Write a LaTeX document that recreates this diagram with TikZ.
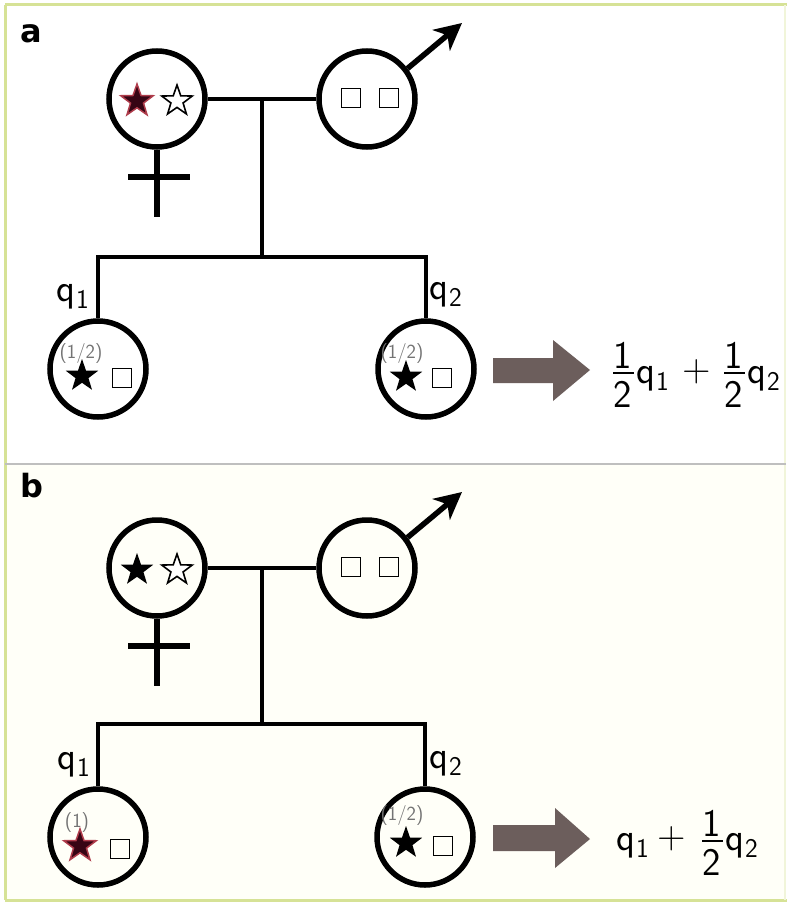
\documentclass[tikz,border=0pt]{standalone}
\usepackage{fontspec}
\usetikzlibrary{shapes.geometric,arrows.meta}
\newfontfamily\labfont{DejaVu Sans}
\newcommand\qsub[1]{q\kern1pt\raisebox{-0.2em}{\fontsize{27}{29}\selectfont #1}}
\definecolor{framecol}{RGB}{214,226,150}
\definecolor{arrowcol}{RGB}{108,94,92}
\definecolor{hotfill}{RGB}{55,5,20}
\definecolor{hotedge}{RGB}{175,60,75}
\definecolor{creamcol}{RGB}{255,255,248}
\begin{document}
\begin{tikzpicture}[x=1pt,y=-1pt,
  person/.style={circle,draw,line width=5.5pt,minimum size=96pt,inner sep=0pt},
  tie/.style={line width=3.2pt},
  sym/.style={line width=5.5pt},
  gene/.style={rectangle,draw,line width=1.7pt,minimum size=19pt,inner sep=0pt},
  starbase/.style={star,star points=5,star point ratio=2.5,minimum size=34pt,inner sep=0pt},
  fullstar/.style={starbase,fill=black},
  openstar/.style={starbase,draw,line width=1.6pt,fill=white,minimum size=32pt},
  hotstar/.style={starbase,fill=hotfill,draw=hotedge,line width=1.5pt},
  share/.style={font=\sffamily\fontsize{20}{22}\selectfont,text=black!55,inner sep=0pt},
  mtxt/.style={font=\sffamily\fontsize{39}{42}\selectfont,inner sep=0pt,anchor=base},
  qlab/.style={mtxt,anchor=base west},
  panlab/.style={font=\labfont\bfseries\fontsize{32}{34}\selectfont,inner sep=0pt},
  fbar/.style={line width=1.6pt},
  bigarrow/.style={fill=arrowcol},
  maletip/.style={-{Stealth[length=27pt,width=27pt,inset=8pt]}}
]
% canvas and frame
\useasboundingbox (0,0) rectangle (788,904);
\fill[white] (0,0) rectangle (788,904);
\fill[creamcol] (5,465) rectangle (786,900);
\draw[framecol,line width=3pt] (5,5) -- (787,5);
\draw[framecol,line width=3pt] (5,5) -- (5,900);
\draw[framecol,line width=3pt] (5,900) -- (787,900);
\draw[framecol!35,line width=1.2pt] (785,5) -- (785,900);
\draw[black!25,line width=1.5pt] (5,464) -- (786,464);

% ================= panel a =================
\node[panlab] (la) at (31,34) {a};
\node[person] (fa) at (157,99) {};
\node[person] (ma) at (367,99) {};
\draw[tie] (fa.east) -- (ma.west);
\coordinate (ja) at (262,99);
\coordinate (ka) at (262,257);
\draw[tie] (ja) -- (ka);
\node[person] (c1a) at (98,369) {};
\node[person] (c2a) at (426,369) {};
\draw[tie] (c1a.north) |- (ka) -| (c2a.north);
% female symbol
\coordinate (fxa) at (157,217);
\coordinate (hla) at (128,177);
\coordinate (hra) at (190,177);
\draw[sym] (fa.south) -- (fxa);
\draw[sym] (hla) -- (hra);
% male symbol
\coordinate (mta) at (462,23);
\draw[sym,maletip] (ma.37) -- (mta);
% parents' genes
\node[hotstar] (s1a) at (137,101) {};
\node[openstar] (s2a) at (177,101) {};
\node[gene] (g1a) at (351,98) {};
\node[gene] (g2a) at (389,98) {};
% children
\node[qlab] (q1a) at (56,301) {\qsub{1}};
\node[qlab] (q2a) at (429,299) {\qsub{2}};
\node[share] (p1a) at (81,354) {(1/2)};
\node[fullstar] (k1a) at (82,376) {};
\node[gene] (h1a) at (122,378) {};
\node[share] (p2a) at (402,354) {(1/2)};
\node[fullstar] (k2a) at (406,377) {};
\node[gene] (h2a) at (442,378) {};
% result
\fill[bigarrow] (493,358) -- (553,358) -- (553,340) -- (590,370) -- (553,401) -- (553,383) -- (493,383) -- cycle;
\node[mtxt] (na1) at (623,368) {1};
\node[mtxt] (da1) at (623,407) {2};
\coordinate (bla1) at (613,373);
\coordinate (bra1) at (634,373);
\draw[fbar] (bla1) -- (bra1);
\node[qlab] (ra1) at (636,383) {\qsub{1}};
\node[mtxt] (pa) at (697,381) {+};
\node[mtxt] (na2) at (734,368) {1};
\node[mtxt] (da2) at (734,407) {2};
\coordinate (bla2) at (724,373);
\coordinate (bra2) at (745,373);
\draw[fbar] (bla2) -- (bra2);
\node[qlab] (ra2) at (747,383) {\qsub{2}};

% ================= panel b =================
\node[panlab] (lb) at (32,486) {b};
\node[person] (fb) at (157,568) {};
\node[person] (mb) at (367,568) {};
\draw[tie] (fb.east) -- (mb.west);
\coordinate (jb) at (262,568);
\coordinate (kb) at (262,724);
\draw[tie] (jb) -- (kb);
\node[person] (c1b) at (98,837) {};
\node[person] (c2b) at (425,837) {};
\draw[tie] (c1b.north) |- (kb) -| (c2b.north);
% female symbol
\coordinate (fxb) at (157,686);
\coordinate (hlb) at (128,646);
\coordinate (hrb) at (190,646);
\draw[sym] (fb.south) -- (fxb);
\draw[sym] (hlb) -- (hrb);
% male symbol
\coordinate (mtb) at (462,492);
\draw[sym,maletip] (mb.37) -- (mtb);
% parents' genes
\node[fullstar] (s1b) at (137,570) {};
\node[openstar] (s2b) at (177,570) {};
\node[gene] (g1b) at (351,567) {};
\node[gene] (g2b) at (389,567) {};
% children
\node[qlab] (q1b) at (57,769) {\qsub{1}};
\node[qlab] (q2b) at (429,768) {\qsub{2}};
\node[share] (p1b) at (77,822) {(1)};
\node[hotstar] (k1b) at (80,846) {};
\node[gene] (h1b) at (120,849) {};
\node[share] (p2b) at (402,816) {(1/2)};
\node[fullstar] (k2b) at (406,843) {};
\node[gene] (h2b) at (443,846) {};
% result
\fill[bigarrow] (493,825) -- (555,825) -- (555,808) -- (590,839) -- (555,868) -- (555,851) -- (493,851) -- cycle;
\node[qlab] (rb1) at (616,850) {\qsub{1}};
\node[mtxt] (pb) at (672,848) {+};
\node[mtxt] (nb2) at (712,836) {1};
\node[mtxt] (db2) at (712,875) {2};
\coordinate (blb2) at (702,841);
\coordinate (brb2) at (723,841);
\draw[fbar] (blb2) -- (brb2);
\node[qlab] (rb2) at (725,850) {\qsub{2}};
\end{tikzpicture}
\end{document}
